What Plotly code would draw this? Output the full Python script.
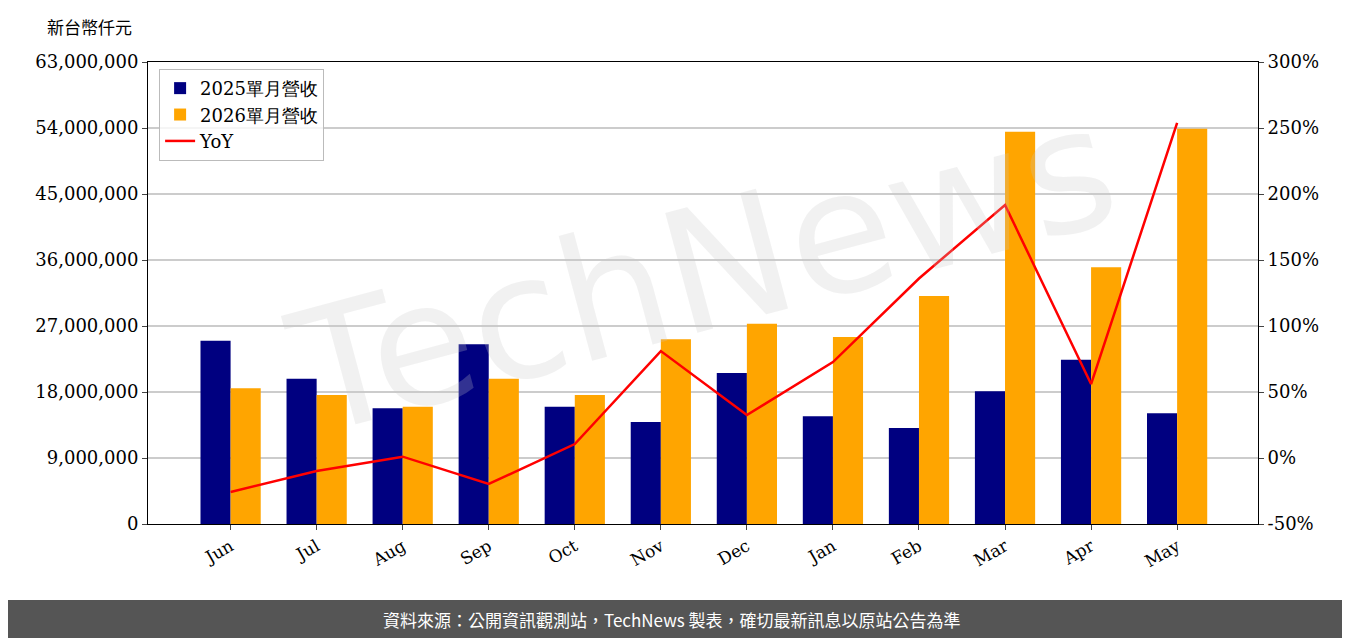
import plotly.graph_objects as go

months = ["Jun", "Jul", "Aug", "Sep", "Oct", "Nov", "Dec", "Jan", "Feb", "Mar", "Apr", "May"]
rev_2025 = [25.0e6, 19.8e6, 15.8e6, 24.5e6, 16.0e6, 13.9e6, 20.6e6, 14.7e6, 13.1e6, 18.1e6, 22.4e6, 15.1e6]
rev_2026 = [18.5e6, 17.6e6, 16.0e6, 19.8e6, 17.6e6, 25.2e6, 27.3e6, 25.5e6, 31.1e6, 53.5e6, 35.0e6, 53.9e6]
yoy = [-25.8, -9.8, 1.0, -19.7, 10.6, 81.0, 32.6, 72.7, 136.0, 191.7, 56.0, 253.8]

left_ticks = [i * 9000000 for i in range(8)]
right_ticks = [-50, 0, 50, 100, 150, 200, 250, 300]

font = "DejaVu Serif"

fig = go.Figure()
fig.add_trace(go.Bar(x=months, y=rev_2025, name="2025單月營收", marker_color="#000080",
                     marker_line_width=0))
fig.add_trace(go.Bar(x=months, y=rev_2026, name="2026單月營收", marker_color="#FFA500",
                     marker_line_width=0))
fig.add_trace(go.Scatter(x=months, y=yoy, name="YoY", mode="lines",
                         line=dict(color="red", width=2.5), yaxis="y2"))

fig.update_layout(
    width=1350, height=638,
    margin=dict(l=140, r=100, t=54, b=122),
    plot_bgcolor="white", paper_bgcolor="white",
    font=dict(family=font, size=18, color="black"),
    barmode="group", bargap=0.3, bargroupgap=0,
    xaxis=dict(tickangle=-30, showline=True, linecolor="black", mirror=True,
               ticks="outside", tickfont=dict(size=17), range=[-0.96, 11.94]),
    yaxis=dict(range=[0, 63000000], tickvals=left_ticks,
               ticktext=[f"{v:,}" for v in left_ticks],
               showgrid=True, gridcolor="#cccccc", gridwidth=1.5,
               showline=True, linecolor="black", ticks="outside", zeroline=False),
    yaxis2=dict(range=[-50, 300], overlaying="y", side="right", tickvals=right_ticks,
                ticktext=[f"{v}%" for v in right_ticks], showgrid=False,
                showline=True, linecolor="black", ticks="outside", zeroline=False),
    legend=dict(x=0.01, y=0.985, xanchor="left", yanchor="top",
                bordercolor="#bbbbbb", borderwidth=1, bgcolor="rgba(255,255,255,0.8)",
                font=dict(size=18)),
    shapes=[dict(type="rect", xref="paper", yref="paper", x0=-0.3, x1=1.3,
                 y0=-0.35, y1=-0.1645, fillcolor="#555555", line_width=0, layer="below")],
    annotations=[
        dict(text="新台幣仟元", xref="paper", yref="paper", x=-0.0928, y=1.0758,
             xanchor="left", yanchor="middle", showarrow=False,
             font=dict(family="Noto Sans CJK TC", size=17)),
        dict(text="資料來源：公開資訊觀測站，TechNews 製表，確切最新訊息以原站公告為準",
             xref="paper", yref="paper", x=0.472, y=-0.238, showarrow=False,
             font=dict(family="Noto Sans CJK TC", size=17, color="white")),
        dict(text="TechNews", xref="paper", yref="paper", x=0.5, y=0.55, showarrow=False,
             textangle=-15, font=dict(family="DejaVu Sans", size=170, color="rgba(200,200,200,0.25)")),
    ],
)

fig.write_html("out.html")
